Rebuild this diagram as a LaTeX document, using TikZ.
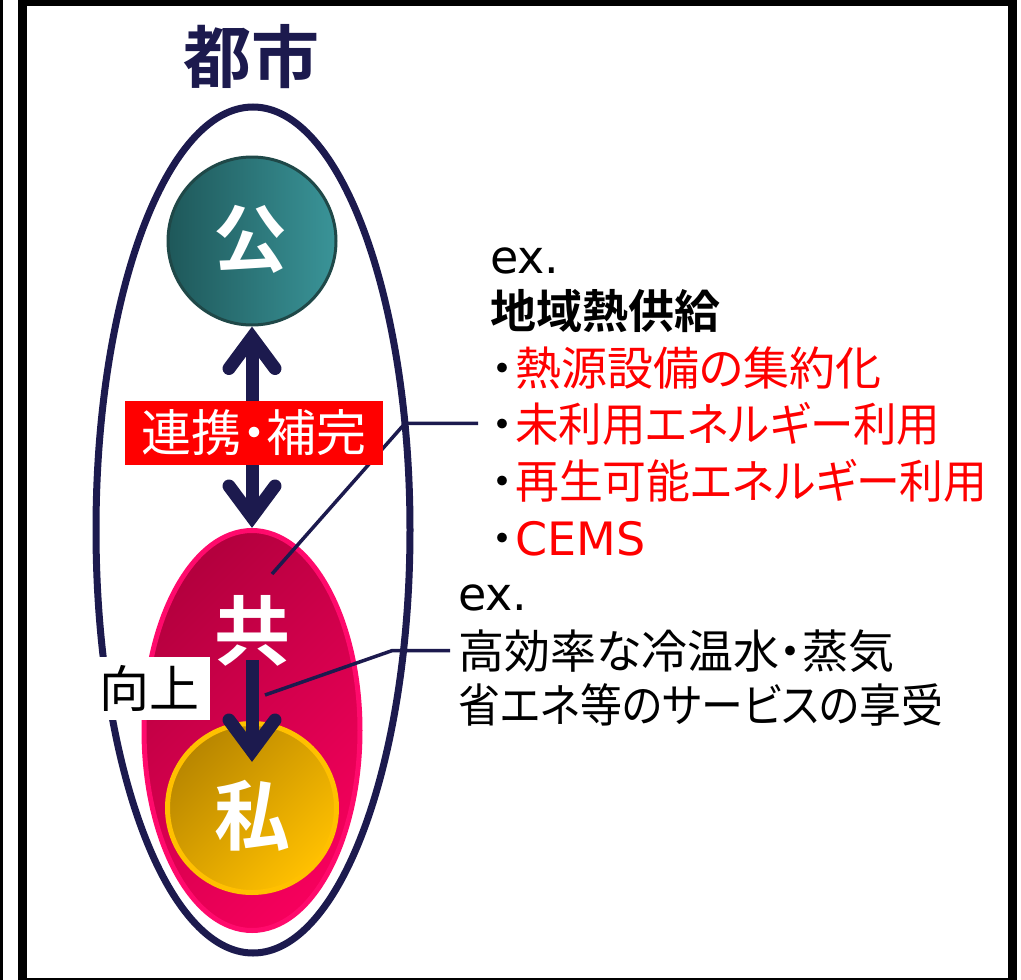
\documentclass[tikz,border=0pt]{standalone}
\usepackage{fontspec}
\usepackage{graphicx}
\setmainfont{Noto Sans CJK JP}[RawFeature={+palt},BoldFont={Noto Sans CJK JP Bold}]
\newfontfamily\lat{DejaVu Sans}
\usetikzlibrary{shapes.geometric,calc}
\definecolor{navy}{RGB}{28,26,78}
\definecolor{tealL}{RGB}{30,88,90}
\definecolor{tealR}{RGB}{58,148,152}
\definecolor{tealB}{RGB}{31,72,72}
\definecolor{crimD}{RGB}{180,0,62}
\definecolor{crimL}{RGB}{245,0,92}
\definecolor{crimB}{RGB}{255,10,108}
\definecolor{goldD}{RGB}{184,134,0}
\definecolor{goldL}{RGB}{255,192,0}
\definecolor{redlab}{RGB}{255,0,0}
\newcommand{\fs}[1]{\fontsize{#1pt}{#1pt}\selectfont}
\newcommand{\narrow}[2]{\scalebox{#1}[1]{#2}}
\tikzset{
  shaft/.style={draw=navy, line width=13pt, shorten <=11pt, shorten >=11pt},
  barb/.style={draw=navy, line width=13pt, line cap=round, line join=miter},
  leader/.style={draw=navy, line width=3.5pt},
  bigchar/.style={text=white, font=\bfseries\fs{76}, inner sep=0pt},
  txt/.style={anchor=base west, inner sep=0pt, font=\fs{46}},
}
\begin{document}
\begin{tikzpicture}[x=1pt,y=-1pt]
\useasboundingbox (0,0) rectangle (1021,980);
\fill[white] (0,0) rectangle (1021,980);
% frame
\draw[black, line width=9pt] (22.5,1.5) rectangle (1012,982);
\draw[black, line width=3pt] (1.5,0) -- (1.5,980);
% title
\node[text=navy, font=\bfseries\fs{68}, inner sep=0pt] (title) at (251,57) {都市};
% outer city ellipse
\node[ellipse, draw=navy, line width=7pt, minimum width=314pt, minimum height=846pt, inner sep=0pt] (city) at (253,530) {};
% kyo egg
\node[ellipse, draw=crimB, line width=5pt, top color=crimD, bottom color=crimL, shading angle=45,
      minimum width=216pt, minimum height=400pt, inner sep=0pt] (kyoshape) at (252,730.5) {};
% watashi circle
\node[circle, draw=goldL, line width=5pt, top color=goldD, bottom color=goldL, shading angle=45,
      minimum size=169pt, inner sep=0pt] (watashishape) at (252,808) {};
% ko circle
\node[circle, draw=tealB, line width=3pt, left color=tealL, right color=tealR,
      minimum size=168pt, inner sep=0pt] (ko) at (252,241) {};
\node[bigchar, font=\bfseries\fs{74}] (kotext) at (250,239) {公};
\node[bigchar] (kyo) at (252,631) {共};
\node[bigchar] (watashi) at (252,816) {私};
% right texts
\node[txt, font=\lat\fs{46}] (ex1) at (490,273) {ex.};
\node[txt, font=\bfseries\fs{46}] (t1) at (490,328) {地域熱供給};
\node[txt] (t2) at (490,385) {\makebox[25pt][c]{・}\textcolor{redlab}{熱源設備の集約化}};
\node[txt] (t3) at (490,441) {\makebox[25pt][c]{・}\textcolor{redlab}{\narrow{0.945}{未利用エネルギー利用}}};
\node[txt] (t4) at (490,498) {\makebox[25pt][c]{・}\textcolor{redlab}{\narrow{0.953}{再生可能エネルギー利用}}};
\node[txt] (t5) at (490,555) {\makebox[25pt][c]{・}\textcolor{redlab}{\lat CEMS}};
\node[txt, font=\lat\fs{46}] (ex2) at (458,610) {ex.};
\node[txt] (s1) at (458,668) {高効率な冷温水・蒸気};
\node[txt] (s2) at (458,722) {\narrow{0.91}{省エネ等のサービスの享受}};
% leaders
\coordinate (l1) at (272,574);
\coordinate (l2) at (265,695);
\draw[leader] (l1) -- ([xshift=-85pt]t3.west) -- ([xshift=-12pt]t3.west);
\draw[leader] (l2) -- ([xshift=-66pt]s1.west) -- ([xshift=-8pt]s1.west);
% double arrow ko <-> kyo
\draw[shaft] (ko.south) -- (kyoshape.north);
\draw[barb] ($(ko.south)+(-23,42)$) -- ($(ko.south)+(0,11)$) -- ($(ko.south)+(23,42)$);
\draw[barb] ($(kyoshape.north)+(-23,-42)$) -- ($(kyoshape.north)+(0,-11)$) -- ($(kyoshape.north)+(23,-42)$);
% arrow kyo -> watashi
\coordinate (a1) at ($(kyo.center)+(0,29)$);
\coordinate (a2) at ($(watashi.center)+(0,-54)$);
\draw[shaft, shorten <=0pt] (a1) -- (a2);
\draw[barb] ($(a2)+(-23,-42)$) -- ($(a2)+(0,-11)$) -- ($(a2)+(23,-42)$);
% labels
\node[fill=redlab, text=white, font=\fs{50}, minimum width=258pt, minimum height=64pt, inner sep=0pt] (renkei) at (254,433) {連携・補完};
\node[fill=white, text=black, font=\fs{50}, text width=110pt, inner xsep=1pt, minimum height=63pt, inner ysep=0pt, align=left] (kojo) at (154,688.5) {向上};
\end{tikzpicture}
\end{document}
